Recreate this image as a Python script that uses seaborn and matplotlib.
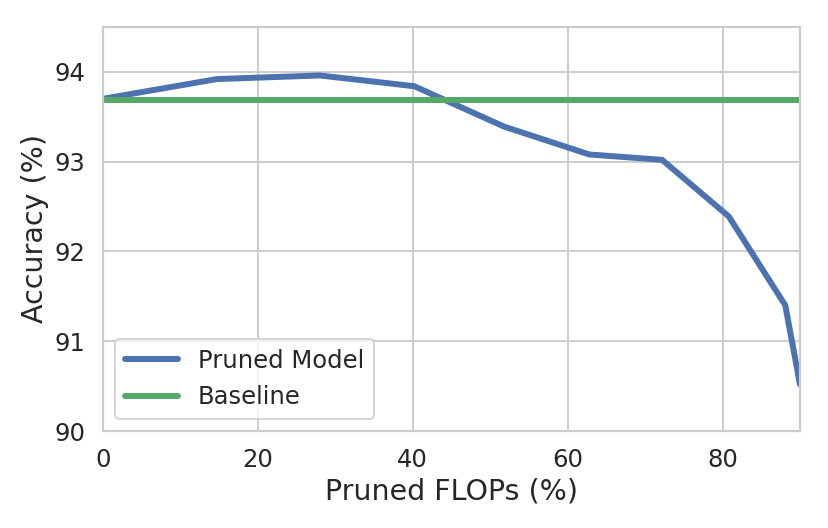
import numpy as np
import pandas as pd
import matplotlib
matplotlib.use('Agg')
import matplotlib.pyplot as plt
import seaborn as sns

# Pruned model accuracy vs. pruned FLOPs
flops = [0.0, 14.7, 28.0, 40.2, 51.8, 62.8, 72.2, 80.8, 88.1, 90.0]
accuracy = [93.70, 93.92, 93.96, 93.84, 93.39, 93.08, 93.02, 92.39, 91.40, 90.52]
baseline_acc = 93.69

sns.set_theme(style='whitegrid', context='talk')
plt.rcParams['font.family'] = ['DejaVu Sans']

fig, ax = plt.subplots(figsize=(8.29, 5.28), dpi=100)
fig.subplots_adjust(left=0.1243, right=0.965, top=0.9489, bottom=0.1837)

df = pd.DataFrame({'flops': flops, 'acc': accuracy})
sns.lineplot(data=df, x='flops', y='acc', ax=ax, color='#4C72B0', linewidth=4.3,
             label='Pruned Model')
ax.axhline(baseline_acc, color='#55A868', linewidth=4.3, label='Baseline')

ax.set_xlim(0, 90)
ax.set_ylim(90, 94.5)
ax.set_xticks([0, 20, 40, 60, 80])
ax.set_yticks([90, 91, 92, 93, 94])
ax.tick_params(labelsize=17.5, colors='#262626')
ax.set_xlabel('Pruned FLOPs (%)', fontsize=20.5, color='#262626')
ax.set_ylabel('Accuracy (%)', fontsize=20.5, color='#262626')
for s in ax.spines.values():
    s.set_color('#cccccc')
    s.set_linewidth(1.6)
ax.grid(color='#cccccc', linewidth=1.4)
ax.legend(loc='lower left', fontsize=17.5, frameon=True, handlelength=2.2)

fig.savefig('out.png', dpi=100)
